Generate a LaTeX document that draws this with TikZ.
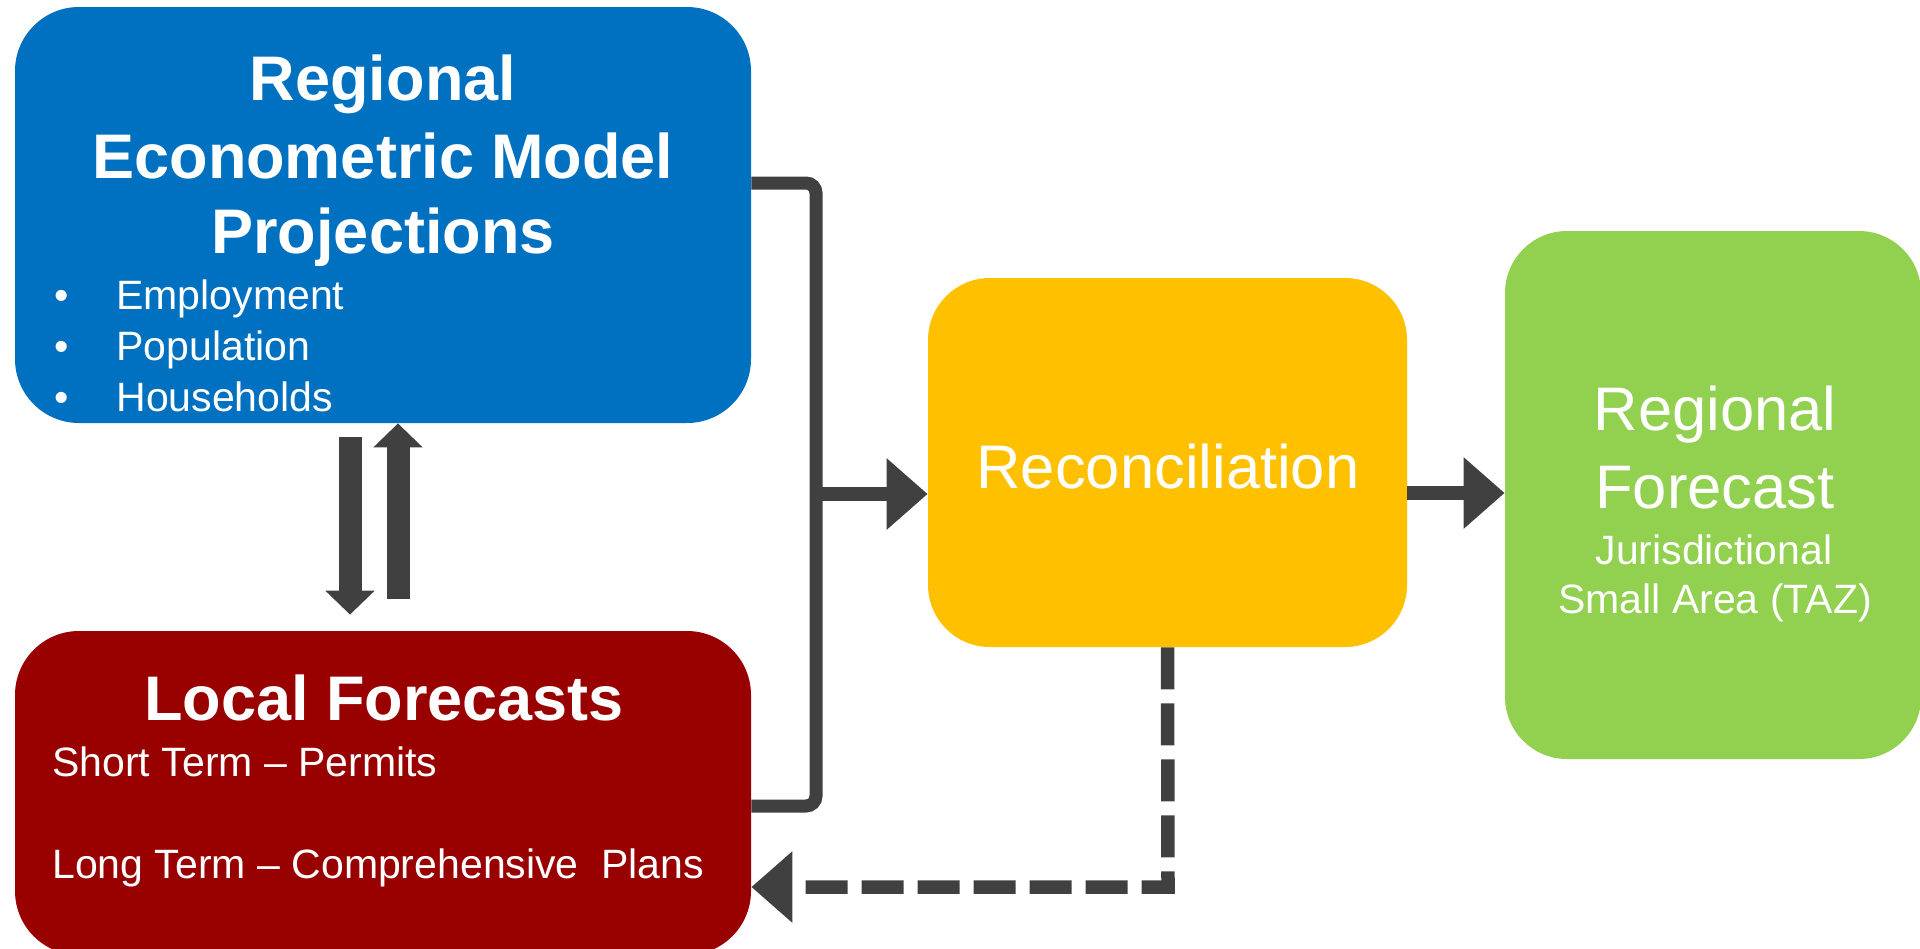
\documentclass[tikz,border=0pt]{standalone}
\usepackage{fontspec}
\setmainfont{Liberation Sans}
\usetikzlibrary{arrows.meta}
\definecolor{cblue}{HTML}{0070C0}
\definecolor{cred}{HTML}{990000}
\definecolor{cyellow}{HTML}{FFC000}
\definecolor{cgreen}{HTML}{92D050}
\definecolor{cgray}{HTML}{404040}
\tikzset{
  box/.style={rectangle, draw=none, rounded corners=31pt, inner sep=0pt},
  lbl/.style={inner sep=0pt, anchor=base, text=white},
  lblw/.style={inner sep=0pt, anchor=base west, text=white},
  bigb/.style={font=\fontsize{31.5pt}{38pt}\selectfont\bfseries},
  bigr/.style={font=\fontsize{30.75pt}{38pt}\selectfont},
  small/.style={font=\fontsize{20.5pt}{25pt}\selectfont},
  conn/.style={draw=cgray, line width=6.5pt, rounded corners=5pt},
  arr/.style={draw=cgray, line width=7pt, -{Triangle[length=20.5pt,width=34.5pt]}},
  varr/.style={draw=cgray, line width=11.5pt, -{Triangle[length=12pt,width=24pt]}},
}
\begin{document}
\begin{tikzpicture}[x=0.5pt,y=-0.5pt]
\useasboundingbox (0,0) rectangle (1920,948);
% boxes
\node[box, fill=cblue, minimum width=368pt, minimum height=208pt, rounded corners=32pt] (blue) at (383,215) {};
\node[box, fill=cred, minimum width=368pt, minimum height=162pt, rounded corners=32pt] (red) at (383,793) {};
\node[box, fill=cyellow, minimum width=239.5pt, minimum height=184.5pt] (yellow) at (1167.5,462.5) {};
\node[box, fill=cgreen, minimum width=208pt, minimum height=264pt] (green) at (1713,495) {};
% blue texts
\node[lbl, bigb] (b1) at (383,100) {Regional};
\node[lbl, bigb] (b2) at (383,178) {Econometric Model};
\node[lbl, bigb] (b3) at (383,253) {Projections};
\node[lbl, small] (bu1) at (62,309) {•};
\node[lbl, small] (bu2) at (62,360) {•};
\node[lbl, small] (bu3) at (62,411) {•};
\node[lblw, small] (e1) at (116,309) {Employment};
\node[lblw, small] (e2) at (116,360) {Population};
\node[lblw, small] (e3) at (116,411) {Households};
% red texts
\node[lbl, bigb] (r1) at (384,720) {Local Forecasts};
\node[lblw, small] (r2) at (52,776) {Short Term – Permits};
\node[lblw, small] (r3) at (52,878) {Long Term – Comprehensive\ \ Plans};
% yellow text
\node[lbl, bigr] (y1) at (1168,488) {Reconciliation};
% green texts
\node[lbl, bigr] (g1) at (1715,430) {Regional};
\node[lbl, bigr] (g2) at (1715,508) {Forecast};
\node[lbl, small] (g3) at (1714,564) {Jurisdictional};
\node[lbl, small] (g4) at (1715,613) {Small Area (TAZ)};
% coordinates
\coordinate (bt) at (816,183);
\coordinate (bb) at (816,806);
\coordinate (mid) at (816,494);
\coordinate (ga) at (1450,493);
\coordinate (dtop) at (350,437);
\coordinate (ubot) at (398,599);
\coordinate (dc) at (1168,887);
% connectors
\draw[conn] (blue.east |- bt) -- (bt) -- (bb) -- (red.east |- bb);
\draw[arr] (mid) -- (yellow.west |- mid);
\draw[arr] (yellow.east |- ga) -- (green.west |- ga);
\draw[varr, shorten >=8pt] (dtop) -- (dtop |- red.north);
\draw[varr] (ubot) -- (ubot |- blue.south);
\draw[arr, line width=6.75pt, dash pattern=on 21pt off 7pt] (yellow.south) -- (dc) -- (red.east |- dc);
\end{tikzpicture}
\end{document}
